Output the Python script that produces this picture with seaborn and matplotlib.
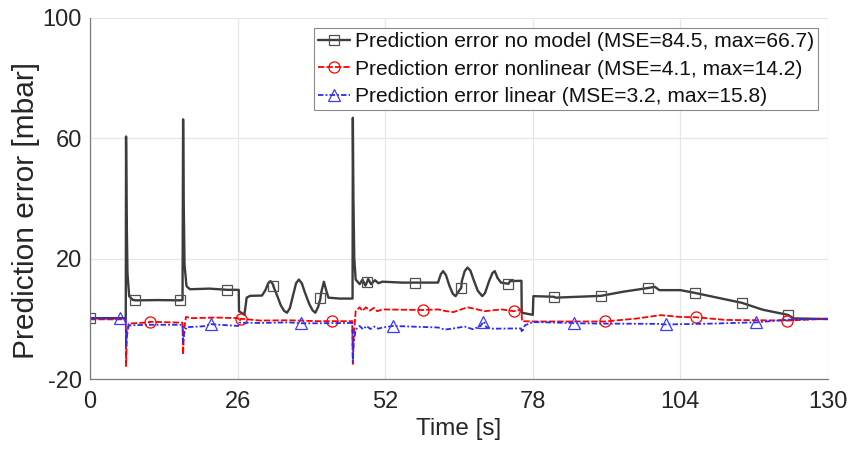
import numpy as np
import pandas as pd
import matplotlib
matplotlib.use("Agg")
import matplotlib.pyplot as plt
import seaborn as sns

# ---------------- data ----------------
# Prediction error, no model (black, squares)
t_nomodel = [0, 6.3, 6.35, 6.45, 6.6, 6.9, 7.5, 12, 16.3, 16.4, 16.5, 16.65, 17.0, 17.6, 21, 24.5,
             26.2, 26.25, 27.2, 27.6, 28.2, 30.3, 30.9, 31.4, 31.8, 32.3, 32.9, 33.6, 34.2, 34.7, 35.2,
             35.8, 36.3, 36.8, 37.3, 37.9, 38.6, 39.2, 39.7, 40.2, 40.7, 41.2, 41.6, 42.0, 44,
             46.25, 46.3, 46.4, 46.55, 46.8, 47.5, 48.0, 48.5, 49.0, 49.5, 50.2, 50.8, 51.5, 55,
             61.3, 61.8, 62.2, 62.7, 63.3, 63.9, 64.4, 64.9, 65.5, 66.0, 66.5, 67.0, 67.6, 68.3, 69.1,
             69.6, 70.3, 70.9, 71.3, 71.8, 72.4, 74, 76.0, 76.05, 78.0, 78.1, 82, 86, 94, 99.5, 100.3,
             104, 110, 118.5, 124, 130]
y_nomodel = [0.2, 0.2, 60.5, 35, 15, 7.5, 6.3, 6.2, 6.2, 66.2, 40, 18, 10.8, 9.8, 10.0, 9.6,
             9.6, 2.5, 1.3, 7.0, 7.6, 7.7, 9.5, 11.8, 12.5, 11.2, 8.0, 4.5, 2.6, 2.0, 3.5,
             8.0, 11.8, 13.0, 11.8, 8.5, 5.0, 2.8, 2.0, 4.0, 8.5, 12.3, 9.5, 7.0, 6.7,
             6.7, 66.7, 40, 20, 13, 11.5, 13.0, 11.0, 13.2, 11.5, 12.8, 11.8, 12.3, 12.0,
             12.0, 14.8, 15.8, 14.5, 11.0, 8.3, 7.5, 9.0, 12.5, 15.8, 17.0, 16.0, 12.8, 9.3, 7.5,
             8.6, 12.5, 15.2, 15.8, 13.5, 12.0, 12.5, 12.6, 2.0, 1.3, 7.5, 7.0, 7.3, 9.0, 10.6, 9.5,
             9.5, 7.2, 3.0, 0.1, -0.1]
mk_nomodel_t = [0, 8.0, 15.8, 24.2, 32.3, 40.6, 48.8, 57.2, 65.4, 73.7, 81.7, 90.0, 98.3, 106.5, 114.8, 122.9]
mk_nomodel_y = [0.2, 6.1, 6.1, 9.6, 10.8, 6.8, 12.2, 12.0, 10.3, 11.6, 7.3, 7.6, 10.2, 8.6, 5.3, 1.3]

# Prediction error, nonlinear model (red, circles)
t_nonlin = [0, 6.3, 6.35, 6.5, 6.8, 10.5, 16.3, 16.4, 16.55, 16.9, 18, 22, 26.1, 26.3, 30, 35, 40,
            46.2, 46.3, 46.45, 46.8, 47.5, 48.0, 48.6, 49.3, 50.0, 50.6, 51.5, 61.3, 62.5, 64, 66.5,
            68, 69.5, 71, 72.5, 76.0, 76.1, 78, 85, 96.4, 100.5, 104, 112, 118, 130]
y_nonlin = [-0.2, -0.2, -15.7, -6, -1.6, -1.2, -1.3, -11.9, -4, 0.6, 0.2, 0.4, 0.2, -0.8, -0.6, -0.5, -0.8,
            -0.8, -15.0, -6, 2.5, 3.8, 2.6, 3.8, 2.7, 3.6, 2.5, 3.1, 3.1, 2.6, 2.2, 3.8,
            3.2, 2.5, 2.8, 3.1, 3.1, -0.8, -0.9, -0.9, 0.1, 1.2, 0.6, -0.4, -0.5, 0.0]
mk_nonlin_t = [10.5, 26.6, 42.7, 58.7, 74.7, 90.8, 106.7, 122.8]
mk_nonlin_y = [-1.0, 0.0, -0.8, 2.9, 2.5, -0.9, 0.5, -0.6]

# Prediction error, linear model (blue, triangles)
t_linear = [0, 6.3, 6.35, 6.5, 6.9, 10, 16.3, 16.4, 16.55, 17, 20, 26.1, 26.3, 30, 35, 40, 46.2,
            46.3, 46.45, 46.8, 47.5, 48.1, 48.7, 49.4, 50.1, 50.8, 51.5, 61.3, 62.5, 64, 66, 67.5,
            68.8, 69.4, 69.8, 71, 75.9, 76.1, 76.6, 78, 85, 90, 100, 110, 115, 122.8, 130]
y_linear = [0.1, 0.1, -9, -4, -2.2, -2.0, -2.0, -8, -5, -2.8, -2.5, -2.4, -1.3, -1.4, -1.2, -1.5, -1.4,
            -14.3, -8, -3.6, -2.4, -3.5, -2.4, -3.4, -2.6, -3.3, -2.9, -2.9, -3.6, -3.2, -2.6, -3.5,
            -2.4, -1.0, -2.8, -3.3, -3.2, -4.5, -2.2, -1.1, -1.4, -1.6, -1.7, -1.6, -1.3, -0.3, 0.0]
mk_linear_t = [5.25, 21.3, 37.2, 53.4, 69.3, 85.3, 101.4, 117.4]
mk_linear_y = [0.1, -1.8, -1.5, -2.4, -1.0, -1.5, -1.9, -1.2]

labels = ["Prediction error no model (MSE=84.5, max=66.7)",
          "Prediction error nonlinear (MSE=4.1, max=14.2)",
          "Prediction error linear (MSE=3.2, max=15.8)"]
x_ticks = [0, 26, 52, 78, 104, 130]
y_ticks = [-20, 20, 60, 100]

# ---------------- style ----------------
sns.set_theme(style="white")
plt.rcParams["font.family"] = ["Liberation Sans", "DejaVu Sans"]
plt.rcParams["axes.unicode_minus"] = False

fig = plt.figure(figsize=(8.51, 4.55), dpi=100)
ax = fig.add_axes([90 / 851, 1 - 379 / 455, (828 - 90) / 851, (379 - 17.5) / 455])


def series_frame(t, y, mt, my):
    df = pd.concat([pd.DataFrame({"t": t, "v": y, "mk": False}),
                    pd.DataFrame({"t": mt, "v": my, "mk": True})], ignore_index=True)
    df = df.sort_values(["t", "mk"], kind="stable").reset_index(drop=True)
    return df


specs = [
    (t_nomodel, y_nomodel, mk_nomodel_t, mk_nomodel_y, "#3c3c3c", "-", "s", 6.5, 1.7, labels[0], "#505050"),
    (t_nonlin, y_nonlin, mk_nonlin_t, mk_nonlin_y, "#ff0000", (0, (3.5, 1.2)), "o", 8, 1.3, labels[1], "#ff0000"),
    (t_linear, y_linear, mk_linear_t, mk_linear_y, "#2828ff", (0, (3, 1.2, 1, 1.2)), "^", 8, 1.3, labels[2], "#3a3aff"),
]

for t, y, mt, my, col, ls, mk, ms, lw, lab, mec in specs:
    df = series_frame(t, y, mt, my)
    idx = list(np.flatnonzero(df["mk"].to_numpy()))
    sns.lineplot(data=df, x="t", y="v", ax=ax, estimator=None, sort=False,
                 color=col, linestyle=ls, linewidth=lw, marker=mk, markersize=ms,
                 markevery=idx, markerfacecolor="none", markeredgecolor=mec,
                 markeredgewidth=0.9, label=lab)

ax.set_xlim(0, 130)
ax.set_ylim(-20, 100)
ax.set_xticks(x_ticks)
ax.set_yticks(y_ticks)
ax.grid(True, color="#e6e6e6", linewidth=0.9)
ax.set_axisbelow(True)
for s in ["top", "right"]:
    ax.spines[s].set_visible(False)
for s in ["left", "bottom"]:
    ax.spines[s].set_color("#7a7a7a")
    ax.spines[s].set_linewidth(0.9)
ax.tick_params(axis="both", direction="in", length=4, width=0.8, color="#7a7a7a",
               labelsize=17, labelcolor="#262626")
ax.tick_params(axis="x", pad=9)
ax.tick_params(axis="y", pad=6)
ax.set_xlabel("Time [s]", fontsize=17.5, color="#262626", labelpad=3)
ax.set_ylabel("Prediction error [mbar]", fontsize=21.5, color="#262626")
ax.yaxis.set_label_coords(-0.068, 0.465)

leg = ax.legend(loc="upper right", bbox_to_anchor=(818 / 851, 1 - 28 / 455), bbox_transform=fig.transFigure,
                fontsize=15.1, frameon=True, fancybox=False, borderaxespad=0,
                handlelength=1.55, handletextpad=0.2, labelspacing=0.4, borderpad=0.2)
leg.get_frame().set_edgecolor("#8a8a8a")
leg.get_frame().set_linewidth(0.8)
leg.get_frame().set_facecolor("white")
leg.get_frame().set_alpha(1)
for txt in leg.get_texts():
    txt.set_color("#111111")

fig.savefig("out.png", dpi=100)
